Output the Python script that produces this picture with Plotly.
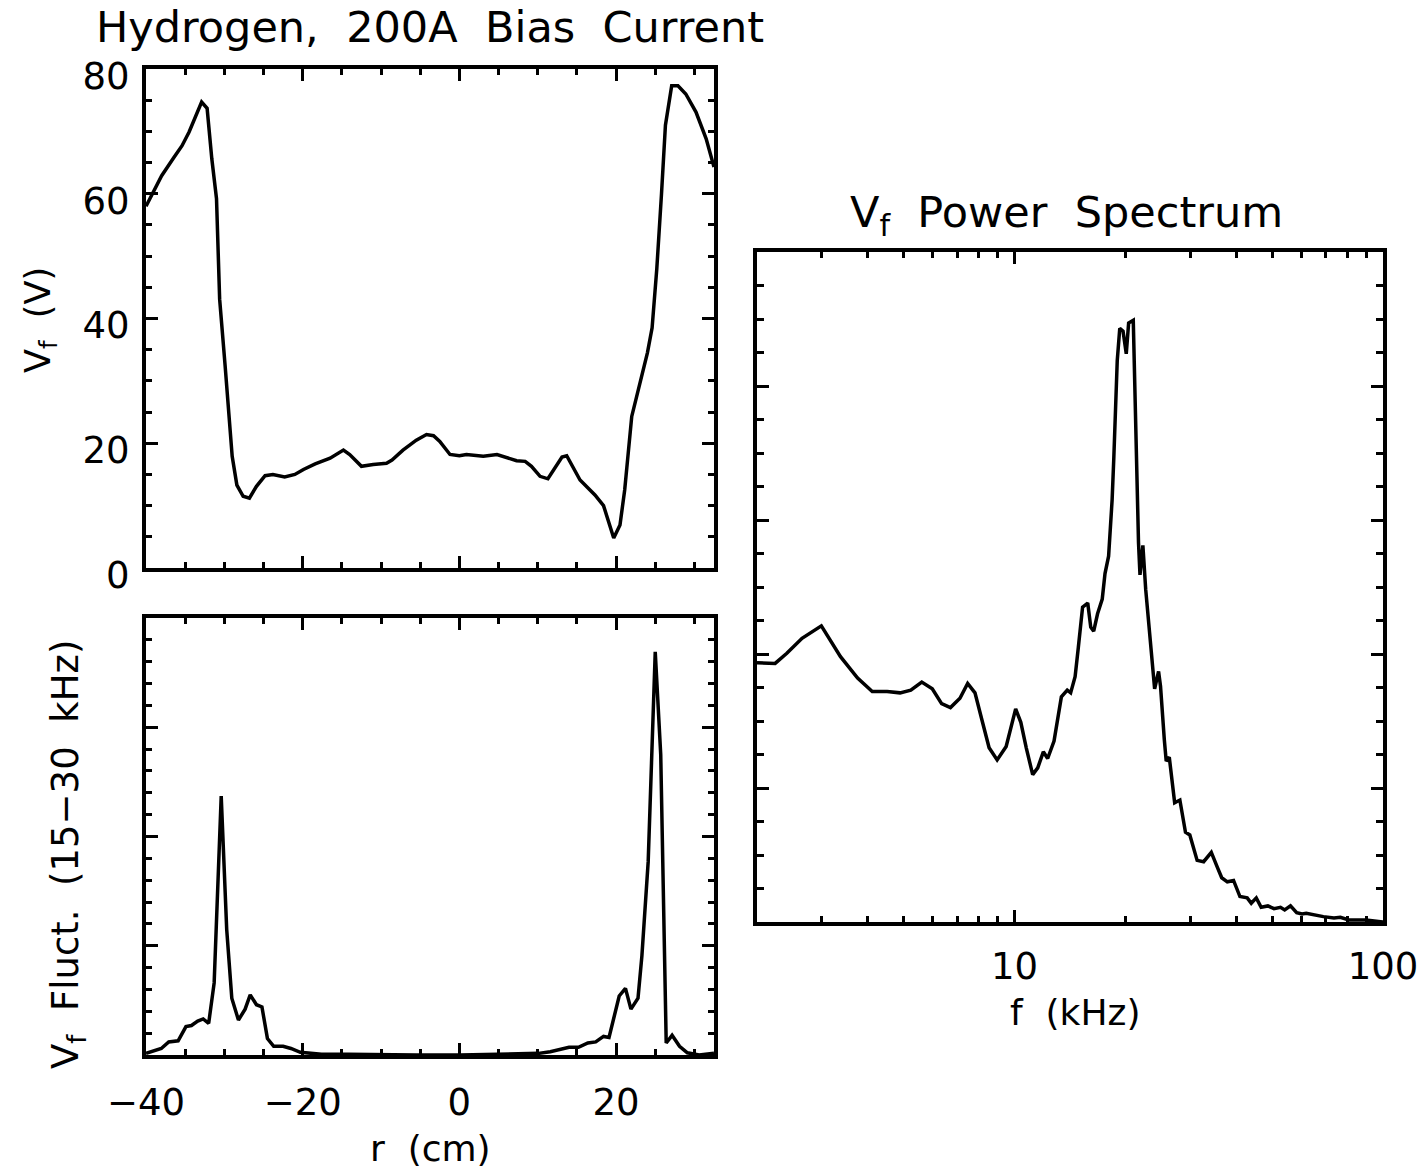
import plotly.graph_objects as go

# ---------------- data ----------------
# Top-left: floating potential profile
r_vf = [-40.0, -38.0, -36.4, -35.4, -34.5, -32.9, -32.2, -31.6, -31.0, -30.6, -29.9, -29.5,
        -29.0, -28.4, -27.6, -26.8, -25.9, -24.8, -23.8, -22.3, -21.0, -19.9, -18.4, -16.5,
        -14.8, -14.0, -12.5, -11.0, -9.3, -8.6, -7.2, -5.5, -4.2, -3.3, -2.5, -1.2, 0.0, 0.9,
        2.0, 3.05, 4.8, 6.2, 7.3, 8.4, 9.2, 10.3, 11.3, 13.1, 13.7, 15.4, 16.2, 17.3, 18.4,
        19.0, 19.7, 20.5, 21.1, 22.0, 23.1, 24.0, 24.6, 25.2, 25.8, 26.3, 27.1, 27.9, 28.9,
        30.2, 31.5, 32.5]
vf = [58.0, 62.9, 65.9, 67.7, 69.9, 74.7, 73.7, 65.6, 59.2, 43.1, 32.4, 25.9,
      17.9, 13.3, 11.5, 11.2, 13.1, 14.8, 15.0, 14.6, 15.0, 15.8, 16.7, 17.6,
      18.9, 18.2, 16.3, 16.6, 16.8, 17.3, 18.9, 20.5, 21.4, 21.2, 20.3, 18.2, 18.0, 18.2,
      18.0, 17.9, 18.2, 17.6, 17.2, 17.1, 16.3, 14.7, 14.3, 17.8, 18.0, 14.1, 13.1, 11.7, 10.0,
      7.7, 4.8, 6.9, 12.5, 24.3, 30.2, 34.5, 38.5, 48.0, 60.0, 71.0, 77.3, 77.3, 76.0,
      73.1, 68.8, 64.3]

# Bottom-left: Vf fluctuation amplitude (15-30 kHz), arbitrary units
r_fl = [-40.0, -38.05, -37.1, -35.9, -34.9, -34.2, -33.4, -32.7, -32.0, -31.3, -30.4, -29.7,
        -29.05, -28.2, -27.35, -26.7, -25.9, -25.2, -24.5, -23.7, -22.5, -21.5, -20.3, -17.6,
        -14.2, -10.3, -5.5, 0.1, 6.7, 10.1, 11.6, 12.8, 14.0, 15.2, 16.4, 17.4, 18.4, 19.1,
        20.4, 21.2, 21.9, 22.8, 23.3, 24.1, 25.0, 25.7, 26.4, 27.15, 28.1, 29.1, 30.6, 32.5]
fluct = [0.015, 0.06, 0.12, 0.13, 0.26, 0.27, 0.31, 0.33, 0.29, 0.66, 2.37, 1.15,
         0.52, 0.32, 0.42, 0.55, 0.46, 0.44, 0.15, 0.08, 0.08, 0.06, 0.025, 0.006,
         0.006, 0.0, 0.0, 0.0, 0.006, 0.015, 0.03, 0.046, 0.07, 0.07, 0.11, 0.12, 0.17, 0.16,
         0.54, 0.61, 0.42, 0.52, 0.91, 1.77, 3.69, 2.75, 0.11, 0.18, 0.08, 0.02, 0.0, 0.015]

# Right: Vf power spectrum, arbitrary units
f_ps = [2.0, 2.24, 2.41, 2.65, 2.99, 3.37, 3.75, 4.11, 4.51, 4.89, 5.23, 5.60, 5.98, 6.34,
        6.70, 7.11, 7.46, 7.81, 8.17, 8.53, 8.97, 9.49, 10.07, 10.4, 10.76, 11.2, 11.56,
        11.97, 12.3, 12.8, 13.4, 13.9, 14.2, 14.6, 14.9, 15.3, 15.8, 16.1, 16.4, 16.8, 17.3,
        17.6, 18.0, 18.4, 18.6, 19.0, 19.3, 19.7, 20.1, 20.4, 21.0, 21.4, 21.7, 21.9, 22.3,
        22.7, 23.2, 23.7, 24.0, 24.6, 24.9, 25.5, 25.8, 26.3, 26.9, 27.2, 28.1, 29.1, 29.9,
        31.3, 32.6, 34.2, 35.5, 36.5, 37.8, 39.3, 40.9, 42.8, 43.9, 45.3, 46.7, 48.7, 50.6,
        52.7, 54.1, 56.1, 58.3, 60.3, 61.9, 65.3, 68.9, 73.6, 76.6, 80.8, 89.9, 100.0]
power = [1.935, 1.93, 2.005, 2.117, 2.21, 1.98, 1.82, 1.72, 1.72, 1.71, 1.73, 1.79, 1.74, 1.63,
         1.60, 1.67, 1.78, 1.71, 1.50, 1.30, 1.21, 1.31, 1.59, 1.49, 1.30, 1.10, 1.15,
         1.27, 1.22, 1.35, 1.68, 1.73, 1.71, 1.83, 2.05, 2.35, 2.38, 2.20, 2.17, 2.30, 2.41,
         2.60, 2.73, 3.15, 3.47, 4.19, 4.43, 4.41, 4.24, 4.47, 4.49, 3.40, 2.83, 2.59, 2.81,
         2.48, 2.20, 1.88, 1.74, 1.87, 1.76, 1.36, 1.20, 1.23, 1.03, 0.89, 0.91, 0.67, 0.65,
         0.46, 0.45, 0.52, 0.41, 0.33, 0.30, 0.31, 0.19, 0.18, 0.14, 0.18, 0.11, 0.12, 0.10,
         0.11, 0.09, 0.12, 0.07, 0.06, 0.065, 0.05, 0.04, 0.03, 0.035, 0.015, 0.015, 0.0]

r_ticks = [-40, -20, 0, 20]
r_labels = ["\u221240", "\u221220", "0", "20"]
f_ticks = [10, 100]
f_labels = ["10", "100"]
f_minor = [3, 4, 5, 6, 7, 8, 9, 20, 30, 40, 50, 60, 70, 80, 90]

# ---------------- figure ----------------
W, H = 1422, 1168
FONT = "DejaVu Sans"


def px_x(a, b):
    return [a / W, b / W]


def px_y(top, bottom):
    return [1 - bottom / H, 1 - top / H]


fig = go.Figure()
line = dict(color="black", width=3.5)
fig.add_trace(go.Scatter(x=r_vf, y=vf, mode="lines", line=line, xaxis="x", yaxis="y"))
fig.add_trace(go.Scatter(x=r_fl, y=fluct, mode="lines", line=line, xaxis="x2", yaxis="y2"))
fig.add_trace(go.Scatter(x=f_ps, y=power, mode="lines", line=line, xaxis="x3", yaxis="y3"))

common = dict(showline=True, linecolor="black", linewidth=4, mirror="allticks",
              ticks="inside", ticklen=12, tickwidth=3, tickcolor="black",
              showgrid=False, zeroline=False, automargin=False,
              tickfont=dict(family=FONT, size=37, color="black"))


def minor(**kw):
    d = dict(ticks="inside", ticklen=6, tickwidth=3, tickcolor="black", showgrid=False)
    d.update(kw)
    return d


fig.update_layout(
    template="none",
    width=W, height=H, margin=dict(l=0, r=0, t=0, b=0, autoexpand=False),
    paper_bgcolor="white", plot_bgcolor="white", showlegend=False,
    xaxis=dict(common, domain=px_x(146, 714), anchor="y", range=[-40, 32.5],
               tickmode="array", tickvals=r_ticks, showticklabels=False,
               minor=minor(dtick=5, tick0=0)),
    yaxis=dict(common, domain=px_y(69, 568), anchor="x", range=[0, 80], dtick=20,
               ticklabelstandoff=5, ticklabelshift=7, minor=minor(dtick=5, tick0=0)),
    xaxis2=dict(common, domain=px_x(146, 714), anchor="y2", range=[-40, 32.5],
                tickmode="array", tickvals=r_ticks, ticktext=r_labels,
                ticklabelstandoff=12, minor=minor(dtick=5, tick0=0)),
    yaxis2=dict(common, domain=px_y(618, 1055), anchor="x2", range=[0, 4], dtick=1,
                showticklabels=False, minor=minor(dtick=0.2, tick0=0)),
    xaxis3=dict(common, domain=px_x(757, 1383), anchor="y3", type="log",
                range=[0.30103, 2], tickmode="array", tickvals=f_ticks, ticktext=f_labels,
                ticklabelstandoff=9, minor=minor(tickmode="array", tickvals=f_minor)),
    yaxis3=dict(common, domain=px_y(252, 922), anchor="x3", range=[0, 5], dtick=1,
                showticklabels=False, minor=minor(dtick=0.25, tick0=0, ticklen=7)),
)


def ann(text, x, y, size=34, angle=0):
    fig.add_annotation(text=text, x=x / W, y=1 - y / H, xref="paper", yref="paper",
                       xanchor="center", yanchor="middle", showarrow=False, textangle=angle,
                       font=dict(family=FONT, size=size, color="black"))


ann("Hydrogen,  200A  Bias  Current", 430, 27, size=43)
ann("V<sub>f</sub>  Power  Spectrum", 1066, 215, size=43)
ann("V<sub>f</sub>  (V)", 40, 320, size=35, angle=-90)
ann("V<sub>f</sub>  Fluct.  (15\u221230  kHz)", 68, 855, size=37, angle=-90)
ann("r  (cm)", 430, 1148, size=36)
ann("f  (kHz)", 1075, 1012, size=36)

fig.write_html("out.html")
